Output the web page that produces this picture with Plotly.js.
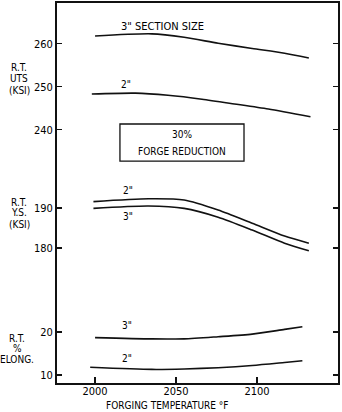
<!DOCTYPE html>
<html>
<head>
<meta charset="utf-8">
<script src="https://cdn.plot.ly/plotly-3.0.1.min.js"></script>
<style>html,body{margin:0;padding:0;background:#fff;}#chart{width:342px;height:412px;}</style>
</head>
<body>
<div id="chart"></div>
<script>
// Forging temperature (°F) sample points
const utsTemp3 = [2000, 2035, 2055, 2076, 2097, 2117, 2132];
const uts3     = [261.8, 262.3, 261.5, 260.1, 258.9, 257.8, 256.7];
const utsTemp2 = [1998, 2025, 2045, 2066, 2086, 2107, 2133];
const uts2     = [248.3, 248.5, 248.0, 247.1, 246.0, 244.8, 243.0];

const ysTemp   = [1999, 2033, 2055, 2076, 2097, 2117, 2132];
const ys2      = [191.6, 192.3, 192.0, 189.5, 186.2, 183.0, 181.2];
const ys3      = [189.9, 190.5, 189.9, 187.7, 184.5, 181.2, 179.3];

const elTemp3  = [2000, 2035, 2055, 2076, 2097, 2117, 2128];
const elong3   = [18.7, 18.4, 18.4, 18.9, 19.5, 20.6, 21.2];
const elTemp2  = [1997, 2035, 2055, 2076, 2097, 2117, 2128];
const elong2   = [11.8, 11.3, 11.4, 11.7, 12.2, 12.9, 13.3];

const xTicks   = [2000, 2050, 2100];
const utsTicks = [240, 250, 260];
const ysTicks  = [180, 190];
const elTicks  = [10, 20];

const FONT = "'Liberation Sans Narrow', 'DejaVu Sans Condensed', 'Arial Narrow', sans-serif";
const line = {color: '#111', width: 1.6, shape: 'spline', smoothing: 0.7};

const traces = [
  {x: utsTemp3, y: uts3, yaxis: 'y', mode: 'lines', line: line, hoverinfo: 'skip'},
  {x: utsTemp2, y: uts2, yaxis: 'y', mode: 'lines', line: line, hoverinfo: 'skip'},
  {x: ysTemp, y: ys2, yaxis: 'y2', mode: 'lines', line: line, hoverinfo: 'skip'},
  {x: ysTemp, y: ys3, yaxis: 'y2', mode: 'lines', line: line, hoverinfo: 'skip'},
  {x: elTemp3, y: elong3, yaxis: 'y3', mode: 'lines', line: line, hoverinfo: 'skip'},
  {x: elTemp2, y: elong2, yaxis: 'y3', mode: 'lines', line: line, hoverinfo: 'skip'}
];

const yCommon = {
  ticks: 'inside', ticklen: 5, tickwidth: 1.5, tickcolor: '#111',
  showline: true, linewidth: 2, linecolor: '#111', mirror: 'ticks',
  showgrid: false, zeroline: false, fixedrange: true,
  tickfont: {family: FONT, size: 11, color: '#000'}
};

function ann(text, x, y, xref, yref, size) {
  return {text: text, x: x, y: y, xref: xref, yref: yref, showarrow: false,
          xanchor: 'center', yanchor: 'middle',
          font: {family: FONT, size: size || 10, color: '#000'}};
}

const layout = {
  width: 342, height: 412,
  margin: {l: 57, r: 4, t: 3, b: 29},
  paper_bgcolor: '#fff', plot_bgcolor: '#fff',
  showlegend: false,
  xaxis: {
    range: [1976.5, 2150], tickvals: xTicks, ticks: 'inside', ticklen: 6, tickwidth: 1.5,
    tickcolor: '#111', showline: true, linewidth: 2, linecolor: '#111', mirror: true,
    showgrid: false, zeroline: false, fixedrange: true, ticklabelstandoff: -3,
    tickfont: {family: FONT, size: 11, color: '#000'}
  },
  yaxis: Object.assign({range: [181.1, 269.47], tickvals: utsTicks}, yCommon),
  yaxis2: Object.assign({range: [146.25, 241.25], tickvals: ysTicks, overlaying: 'y', anchor: 'x', side: 'left'}, yCommon),
  yaxis3: Object.assign({range: [8.14, 96.5], tickvals: elTicks, overlaying: 'y', anchor: 'x', side: 'left'}, yCommon),
  shapes: [
    {type: 'rect', xref: 'paper', yref: 'paper', x0: 0.224, x1: 0.6655, y0: 0.584, y1: 0.6816,
     line: {color: '#111', width: 1.3}, fillcolor: 'rgba(0,0,0,0)'}
  ],
  annotations: [
    ann('3" SECTION SIZE', 2041.4, 263.9, 'x', 'y', 11),
    ann('2"', 2019, 250.6, 'x', 'y'),
    ann('2"', 2020.4, 194.5, 'x', 'y2'),
    ann('3"', 2020.4, 187.8, 'x', 'y2'),
    ann('3"', 2019.8, 21.4, 'x', 'y3'),
    ann('2"', 2019.8, 13.9, 'x', 'y3'),
    ann('30%', 0.445, 0.655, 'paper', 'paper'),
    ann('FORGE REDUCTION', 0.445, 0.6105, 'paper', 'paper'),
    ann('R.T.', -0.135, 0.829, 'paper', 'paper'),
    ann('UTS', -0.135, 0.8, 'paper', 'paper'),
    ann('(KSI)', -0.135, 0.771, 'paper', 'paper'),
    ann('R.T.', -0.135, 0.476, 'paper', 'paper'),
    ann('Y.S.', -0.135, 0.4474, 'paper', 'paper'),
    ann('(KSI)', -0.135, 0.418, 'paper', 'paper'),
    ann('R.T.', -0.142, 0.118, 'paper', 'paper'),
    ann('%', -0.142, 0.0895, 'paper', 'paper'),
    ann('ELONG.', -0.142, 0.061, 'paper', 'paper'),
    ann('FORGING TEMPERATURE °F', 0.395, -0.06, 'paper', 'paper')
  ]
};

Plotly.newPlot('chart', traces, layout, {staticPlot: true, displayModeBar: false});
</script>
</body>
</html>
